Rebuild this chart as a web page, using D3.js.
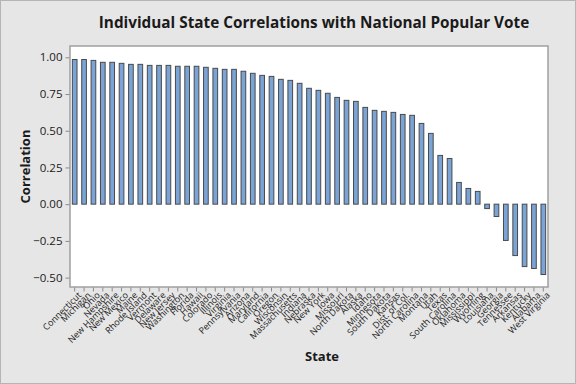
<!DOCTYPE html>
<html>
<head>
<meta charset="utf-8">
<script src="https://cdn.jsdelivr.net/npm/d3@7"></script>
<style>
  html, body { margin: 0; padding: 0; background: #e6e6e6; }
  svg { display: block; }
  text { font-family: "Open Sans", "Noto Sans", sans-serif; }
</style>
</head>
<body>
<svg id="chart" width="576" height="384"></svg>
<script>
const states = ["Connecticut","Michigan","Ohio","Nevada","New Hampshire","New Mexico","Maine","Rhode Island","Vermont","Delaware","New Jersey","Washington","Florida","Hawaii","Colorado","Illinois","Virginia","Pennsylvania","Arizona","Maryland","California","Oregon","Wisconsin","Massachusetts","Indiana","Nebraska","New York","Iowa","Missouri","North Dakota","Alaska","Idaho","Minnesota","South Dakota","Kansas","Dist. of Col.","North Carolina","Montana","Utah","Texas","South Carolina","Oklahoma","Mississippi","Wyoming","Louisiana","Georgia","Tennessee","Arkansas","Kentucky","Alabama","West Virginia"];
const correlations = [0.985,0.985,0.979,0.966,0.966,0.959,0.952,0.952,0.945,0.945,0.945,0.939,0.939,0.939,0.932,0.925,0.918,0.918,0.905,0.891,0.877,0.870,0.850,0.843,0.823,0.789,0.775,0.755,0.727,0.707,0.700,0.659,0.639,0.632,0.625,0.611,0.605,0.550,0.482,0.332,0.311,0.148,0.107,0.087,-0.030,-0.084,-0.247,-0.350,-0.425,-0.438,-0.479];
const yTicks = [-0.50,-0.25,0.00,0.25,0.50,0.75,1.00];
const titleText = "Individual State Correlations with National Popular Vote";
const xTitle = "State";
const yTitle = "Correlation";

const svg = d3.select("#chart");
const W = 576, H = 384;
const L = 70, R = 548, T = 46, B = 287;

svg.append("rect").attr("x",0).attr("y",0).attr("width",W).attr("height",H)
  .attr("fill","#e6e6e6");
svg.append("rect").attr("x",0.5).attr("y",0.5).attr("width",W-1).attr("height",H-1)
  .attr("fill","none").attr("stroke","#b5b5b5");

svg.append("rect").attr("x",L).attr("y",T).attr("width",R-L).attr("height",B-T)
  .attr("fill","#ffffff");

const x = d3.scaleBand().domain(states).range([L, R]).paddingInner(0.5).paddingOuter(0.25);
const y = d3.scaleLinear().domain([-0.564, 1.077]).range([B, T]);

// bars
svg.append("g").selectAll("rect").data(states).join("rect")
  .attr("x", d => x(d))
  .attr("width", x.bandwidth())
  .attr("y", (d,i) => y(Math.max(0, correlations[i])))
  .attr("height", (d,i) => Math.abs(y(correlations[i]) - y(0)))
  .attr("fill", "#7aa3d6")
  .attr("stroke", "#4a4a4a")
  .attr("stroke-width", 1);

// frame
svg.append("rect").attr("x",L).attr("y",T).attr("width",R-L).attr("height",B-T)
  .attr("fill","none").attr("stroke","#a0a0a0").attr("stroke-width",1.5);

// y axis
const yAxis = d3.axisLeft(y).tickValues(yTicks).tickFormat(d3.format(".2f")).tickSize(4).tickPadding(3);
const gy = svg.append("g").attr("transform",`translate(${L-0.5},0)`).call(yAxis);
gy.select(".domain").remove();
gy.selectAll(".tick line").attr("stroke","#8a8a8a");
gy.selectAll(".tick text").attr("font-size","11.5px").attr("fill","#1a1a1a")
  .style("font-family","'Open Sans', sans-serif");

// x axis
const xAxis = d3.axisBottom(x).tickSize(4).tickPadding(2);
const gx = svg.append("g").attr("transform",`translate(0,${B+0.5})`).call(xAxis);
gx.select(".domain").remove();
gx.selectAll(".tick line").attr("stroke","#8a8a8a");
gx.selectAll(".tick text")
  .attr("font-size","9px").attr("fill","#1a1a1a")
  .style("font-family","'Open Sans', sans-serif")
  .attr("text-anchor","end")
  .attr("dy","0")
  .attr("transform","translate(3,4) rotate(-45)");

// titles
svg.append("text").attr("x",314).attr("y",28).attr("text-anchor","middle")
  .attr("font-size","15.3px").attr("font-weight","bold").attr("fill","#1a1a1a")
  .text(titleText);
svg.append("text").attr("x",322).attr("y",361).attr("text-anchor","middle")
  .attr("font-size","13px").attr("font-weight","bold").attr("fill","#1a1a1a")
  .text(xTitle);
svg.append("text").attr("transform",`translate(30,${(T+B)/2}) rotate(-90)`).attr("text-anchor","middle")
  .attr("font-size","13px").attr("font-weight","bold").attr("fill","#1a1a1a")
  .text(yTitle);
</script>
</body>
</html>
